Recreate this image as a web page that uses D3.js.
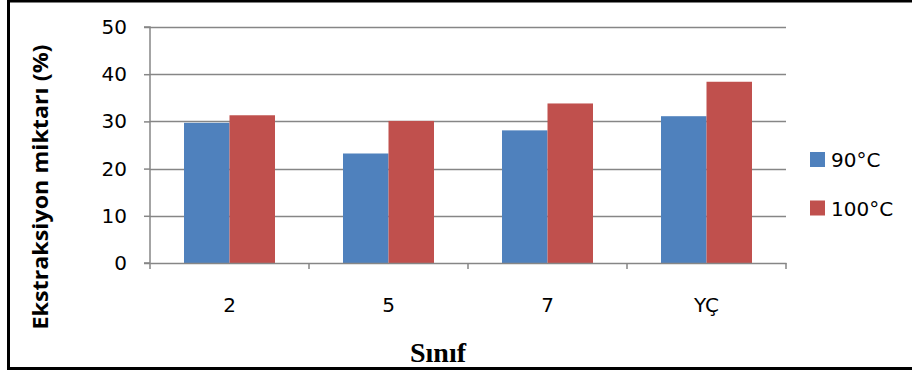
<!DOCTYPE html>
<html>
<head>
<meta charset="utf-8">
<script src="https://cdn.jsdelivr.net/npm/d3@7"></script>
<style>
  body { margin: 0; background: #fff; }
  svg { display: block; }
</style>
</head>
<body>
<script>
// veriler
var siniflar = ["2", "5", "7", "YÇ"];
var seriAdlari = ["90°C", "100°C"];
var deger90 = [29.7, 23.2, 28.1, 31.1];
var deger100 = [31.3, 30.1, 33.8, 38.4];
var yTikler = [0, 10, 20, 30, 40, 50];
var renkler = ["#4f81bd", "#c0504d"];

var W = 912, H = 372;
var margin = {top: 27, right: 126, bottom: 109, left: 150},
    width = W - margin.left - margin.right,
    height = H - margin.top - margin.bottom;

var yaziTipi = "'DejaVu Sans', 'Open Sans', sans-serif";

var svg = d3.select("body").append("svg")
    .attr("width", W)
    .attr("height", H);

// cerceve
svg.append("path")
    .attr("d", "M8.5,0 V368.5 H912 M8.5,1 H912")
    .attr("fill", "none")
    .attr("stroke", "#000")
    .attr("stroke-width", 3);

var g = svg.append("g")
    .attr("transform", "translate(" + margin.left + "," + margin.top + ")");

var x0 = d3.scaleBand().domain(siniflar).range([0, width]).paddingInner(0).paddingOuter(0);
var x1 = d3.scaleBand().domain(seriAdlari).range([0, 91]);
var y = d3.scaleLinear().domain([0, 50]).range([height, 0]);

// grid
g.selectAll("line.grid")
    .data(yTikler.filter(function(d) { return d > 0; }))
    .enter().append("line")
    .attr("class", "grid")
    .attr("x1", 0).attr("x2", width)
    .attr("y1", function(d) { return Math.round(y(d)) + 0.5; })
    .attr("y2", function(d) { return Math.round(y(d)) + 0.5; })
    .attr("stroke", "#868686")
    .attr("stroke-width", 1.5);

// barlar
var veri = siniflar.map(function(s, i) {
  return {sinif: s, degerler: [deger90[i], deger100[i]]};
});

var grup = g.selectAll("g.grup")
    .data(veri)
    .enter().append("g")
    .attr("class", "grup")
    .attr("transform", function(d) {
      return "translate(" + (x0(d.sinif) + (x0.bandwidth() - 91) / 2) + ",0)";
    });

grup.selectAll("rect")
    .data(function(d) { return d.degerler.map(function(v, j) { return {seri: seriAdlari[j], v: v, j: j}; }); })
    .enter().append("rect")
    .attr("x", function(d) { return x1(d.seri); })
    .attr("width", x1.bandwidth())
    .attr("y", function(d) { return y(d.v); })
    .attr("height", function(d) { return height - y(d.v); })
    .attr("fill", function(d) { return renkler[d.j]; });

// y ekseni
var yAxis = d3.axisLeft(y).tickValues(yTikler).tickSize(6).tickPadding(17);
var yAx = g.append("g").call(yAxis);
yAx.select(".domain").attr("stroke", "#868686").attr("stroke-width", 1.5).attr("d", "M-6," + height + "H0V0H-6");
yAx.selectAll(".tick line").attr("stroke", "#868686").attr("stroke-width", 1.5);
yAx.selectAll(".tick text")
    .style("font-family", yaziTipi)
    .style("font-size", "20px")
    .attr("fill", "#000");

// x ekseni
var xAxis = d3.axisBottom(x0).tickSize(0).tickPadding(35);
var xAx = g.append("g").attr("transform", "translate(0," + height + ")").call(xAxis);
xAx.select(".domain").attr("stroke", "#868686").attr("stroke-width", 1.5);
xAx.selectAll(".tick text")
    .style("font-family", yaziTipi)
    .style("font-size", "20px")
    .attr("fill", "#000");
// kategori sinir tikleri
xAx.selectAll("line.sinir")
    .data(d3.range(siniflar.length + 1))
    .enter().append("line")
    .attr("class", "sinir")
    .attr("x1", function(i) { return i * x0.step(); })
    .attr("x2", function(i) { return i * x0.step(); })
    .attr("y1", 0).attr("y2", 6)
    .attr("stroke", "#868686").attr("stroke-width", 1.5);

// eksen basliklari
svg.append("text")
    .attr("transform", "translate(48,187) rotate(-90)")
    .attr("text-anchor", "middle")
    .attr("textLength", 285)
    .attr("lengthAdjust", "spacingAndGlyphs")
    .style("font-family", "'Open Sans', sans-serif")
    .style("font-weight", "bold")
    .style("font-size", "21.5px")
    .text("Ekstraksiyon miktarı (%)");

svg.append("text")
    .attr("x", 438)
    .attr("y", 362)
    .attr("text-anchor", "middle")
    .style("font-family", "'Liberation Serif', 'Times New Roman', serif")
    .style("font-weight", "bold")
    .style("font-size", "28px")
    .text("Sınıf");

// lejant
var lejant = svg.append("g").attr("transform", "translate(810,152)");
var li = lejant.selectAll("g")
    .data(seriAdlari)
    .enter().append("g")
    .attr("transform", function(d, i) { return "translate(0," + i * 48.5 + ")"; });
li.append("rect")
    .attr("width", 15).attr("height", 15)
    .attr("fill", function(d, i) { return renkler[i]; });
li.append("text")
    .attr("x", 21).attr("y", 15)
    .style("font-family", yaziTipi)
    .style("font-size", "20px")
    .text(function(d) { return d; });
</script>
</body>
</html>
